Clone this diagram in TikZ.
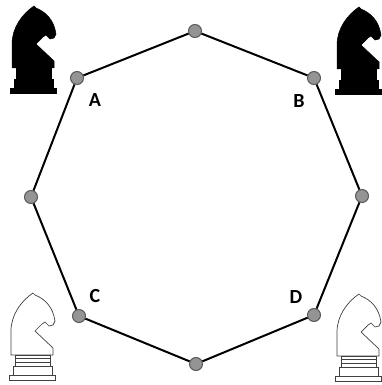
\documentclass[tikz,border=0pt]{standalone}
\usepackage{fontspec}
\newfontfamily\labelfont{Carlito}
\usetikzlibrary{positioning}

\tikzset{
  knightshape/.pic={
    \begin{scope}[yscale=-1]
    % head and neck
    \path[pic actions] (2,62) -- (2,38) .. controls (2,22) and (12,8) .. (24,0) -- (26,2)
      .. controls (36,6) and (44,14) .. (46,28) -- (44,32) -- (40,33) -- (36,29) -- (33,31)
      -- (26,38) -- (44,55) -- (44,62) -- cycle;
    % collar, base and plinth
    \path[pic actions] (6,62) rectangle (41,73);
    \path[pic actions] (4,73) rectangle (43,82);
    \path[pic actions] (0,82) rectangle (46,87);
    \draw[pic actions] (6,65.5) -- (41,65.5) (6,69) -- (41,69);
    \end{scope}
  }
}

\begin{document}
\begin{tikzpicture}[x=1pt,y=1pt,yscale=-1,xscale=1,
  vertex/.style={circle,draw=black!65,fill=black!42,line width=1pt,minimum size=13pt,inner sep=0pt},
  vlabel/.style={font=\labelfont\bfseries\fontsize{20}{20}\selectfont,inner sep=0pt},
  blackknight/.style={fill=black,draw=black,line width=0.5pt},
  whiteknight/.style={fill=white,draw=black!75,line width=0.7pt}]
  \useasboundingbox (0,0) rectangle (382,385); %same size as the reference
  % Vertices
  \node[vertex] (top) at (195,31) {};
  \node[vertex] (tr) at (314,78) {};
  \node[vertex] (right) at (362,196) {};
  \node[vertex] (br) at (314,315) {};
  \node[vertex] (bottom) at (196,364) {};
  \node[vertex] (bl) at (79,316) {};
  \node[vertex] (left) at (31,197) {};
  \node[vertex] (tl) at (77,78) {};
  % Octagon
  \draw[line width=2pt] (top) -- (tr) -- (right) -- (br) -- (bottom) -- (bl) -- (left) -- (tl) -- (top);
  % Text Node
  \node[vlabel] (la) at (95,100) {A};
  \node[vlabel] (lb) at (299,101) {B};
  \node[vlabel] (lc) at (95,296) {C};
  \node[vlabel] (ld) at (296,297) {D};
  % Knights
  \pic[blackknight] at (10,6) {knightshape};
  \pic[blackknight] at (335,7) {knightshape};
  \pic[whiteknight] at (9,293) {knightshape};
  \pic[whiteknight] at (335,294) {knightshape};
\end{tikzpicture}
\end{document}
